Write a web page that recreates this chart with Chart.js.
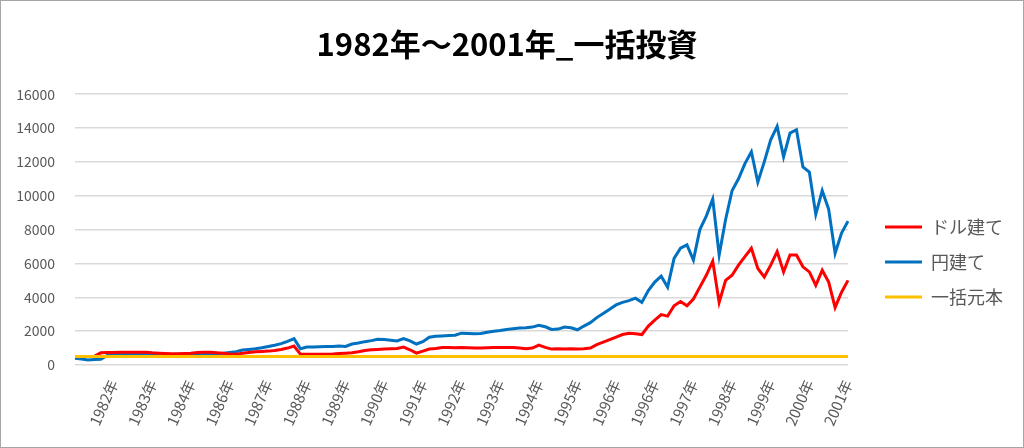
<!DOCTYPE html>
<html>
<head>
<meta charset="utf-8">
<script src="https://cdn.jsdelivr.net/npm/chart.js@4"></script>
<style>
  html, body { margin: 0; padding: 0; background: #fff; }
  #wrap { width: 1024px; height: 448px; box-sizing: border-box; border: 1px solid #a6a6a6; }
</style>
</head>
<body>
<div id="wrap"><canvas id="myChart" width="1022" height="446"></canvas></div>
<script>
// tick labels shown every 6 points along the bottom axis
var yearTicks = ['1982年', '1983年', '1984年', '1986年', '1987年', '1988年', '1989年', '1990年', '1991年', '1992年',
  '1993年', '1994年', '1995年', '1996年', '1996年', '1997年', '1998年', '1999年', '2000年', '2001年'];
var tickEvery = 6;

// ドル建て
var dollarValues = [
  500, 500, 500, 510, 720, 740,
  740, 760, 760, 750, 760, 750,
  720, 700, 680, 660, 660, 680,
  700, 740, 760, 750, 720, 690,
  650, 640, 700, 740, 780, 800,
  820, 860, 920, 1000, 1120, 640,
  640, 640, 640, 640, 650, 680,
  700, 720, 780, 860, 900, 920,
  940, 960, 980, 1060, 900, 700,
  820, 940, 980, 1040, 1040, 1020,
  1040, 1020, 1000, 1000, 1020, 1040,
  1040, 1040, 1040, 1000, 960, 1000,
  1180, 1040, 940, 960, 940, 960,
  950, 960, 1000, 1200, 1350, 1500,
  1650, 1800, 1880, 1850, 1800, 2300,
  2650, 2980, 2890, 3500, 3750, 3500,
  3900, 4600, 5300, 6140, 3700, 5000,
  5300, 5900, 6400, 6900, 5700, 5200,
  5900, 6700, 5500, 6500, 6500, 5800,
  5500, 4700, 5600, 4900, 3400, 4300,
  5000
];

// 円建て
var yenValues = [
  400, 350, 300, 320, 340, 560,
  640, 660, 650, 660, 650, 640,
  640, 640, 630, 620, 630, 630,
  640, 650, 640, 650, 660, 690,
  740, 790, 880, 920, 960, 1020,
  1090, 1170, 1260, 1400, 1560, 960,
  1060, 1060, 1080, 1090, 1100, 1120,
  1100, 1240, 1300, 1380, 1440, 1520,
  1500, 1460, 1420, 1560, 1420, 1240,
  1380, 1640, 1700, 1720, 1740, 1760,
  1880, 1860, 1840, 1860, 1930, 2000,
  2040, 2100, 2140, 2180, 2200, 2240,
  2340, 2260, 2100, 2120, 2240, 2200,
  2080, 2300, 2500, 2800, 3050, 3300,
  3550, 3700, 3800, 3950, 3700, 4400,
  4900, 5250, 4600, 6300, 6900, 7100,
  6200, 8000, 8800, 9800, 6500, 8600,
  10300, 11000, 11900, 12600, 10800, 12000,
  13300, 14100, 12300, 13700, 13900, 11700,
  11400, 8900, 10300, 9200, 6600, 7800,
  8500
];

// 一括元本
var principal = 500;
var principalValues = dollarValues.map(function () { return principal; });

var pointLabels = dollarValues.map(function (v, i) { return String(i); });

var font = "'Noto Sans CJK JP', 'Noto Sans', sans-serif";

var ctx = document.getElementById('myChart').getContext('2d');
var chart = new Chart(ctx, {
    type: 'line',
    data: {
        labels: pointLabels,
        datasets: [{
            label: 'ドル建て',
            borderColor: '#FF0000',
            backgroundColor: '#FF0000',
            borderWidth: 3,
            data: dollarValues,
            order: 1
        },
        {
            label: '円建て',
            borderColor: '#0070C0',
            backgroundColor: '#0070C0',
            borderWidth: 3,
            data: yenValues,
            order: 2
        },
        {
            label: '一括元本',
            borderColor: '#FFC000',
            backgroundColor: '#FFC000',
            borderWidth: 3,
            data: principalValues,
            order: 0
        }]
    },
    options: {
        responsive: false,
        animation: false,
        events: [],
        elements: {
            point: { radius: 0 },
            line: { borderWidth: 3, tension: 0 }
        },
        layout: { padding: { top: 0, right: 10, bottom: 0, left: 0 } },
        plugins: {
            title: {
                display: true,
                text: '1982年～2001年_一括投資',
                color: '#000',
                font: { family: font, size: 31, weight: 'bold' },
                padding: { top: 25, bottom: 31 }
            },
            legend: {
                position: 'right',
                title: {
                    display: true,
                    text: ' ',
                    font: { size: 10 },
                    padding: { top: 0, bottom: 64 }
                },
                labels: {
                    sort: function (a, b) { return a.datasetIndex - b.datasetIndex; },
                    usePointStyle: true,
                    pointStyle: 'line',
                    pointStyleWidth: 37,
                    boxWidth: 37,
                    boxHeight: 18,
                    padding: 17,
                    color: '#595959',
                    font: { family: font, size: 18 }
                }
            },
            tooltip: { enabled: false }
        },
        scales: {
            x: {
                grid: { display: false },
                border: { display: false },
                ticks: {
                    autoSkip: false,
                    minRotation: 66,
                    maxRotation: 66,
                    padding: 4,
                    color: '#595959',
                    font: { family: font, size: 15 },
                    callback: function (value, index) {
                        if (index > 0 && index % tickEvery === 0) return yearTicks[index / tickEvery - 1];
                        return '';
                    }
                },
                afterFit: function (scale) { scale.height = 82; }
            },
            y: {
                min: 0,
                max: 16000,
                grid: { color: '#d9d9d9', lineWidth: 1.5, drawTicks: false },
                border: { display: false },
                ticks: {
                    stepSize: 2000,
                    padding: 20,
                    color: '#595959',
                    font: { family: font, size: 14 },
                    callback: function (value) { return String(value); }
                },
                afterFit: function (scale) { scale.width = 74; }
            },
            yRight: {
                position: 'right',
                grid: { display: false },
                border: { display: false },
                ticks: { display: false },
                afterFit: function (scale) { scale.width = 20; }
            }
        }
    }
});
</script>
</body>
</html>
